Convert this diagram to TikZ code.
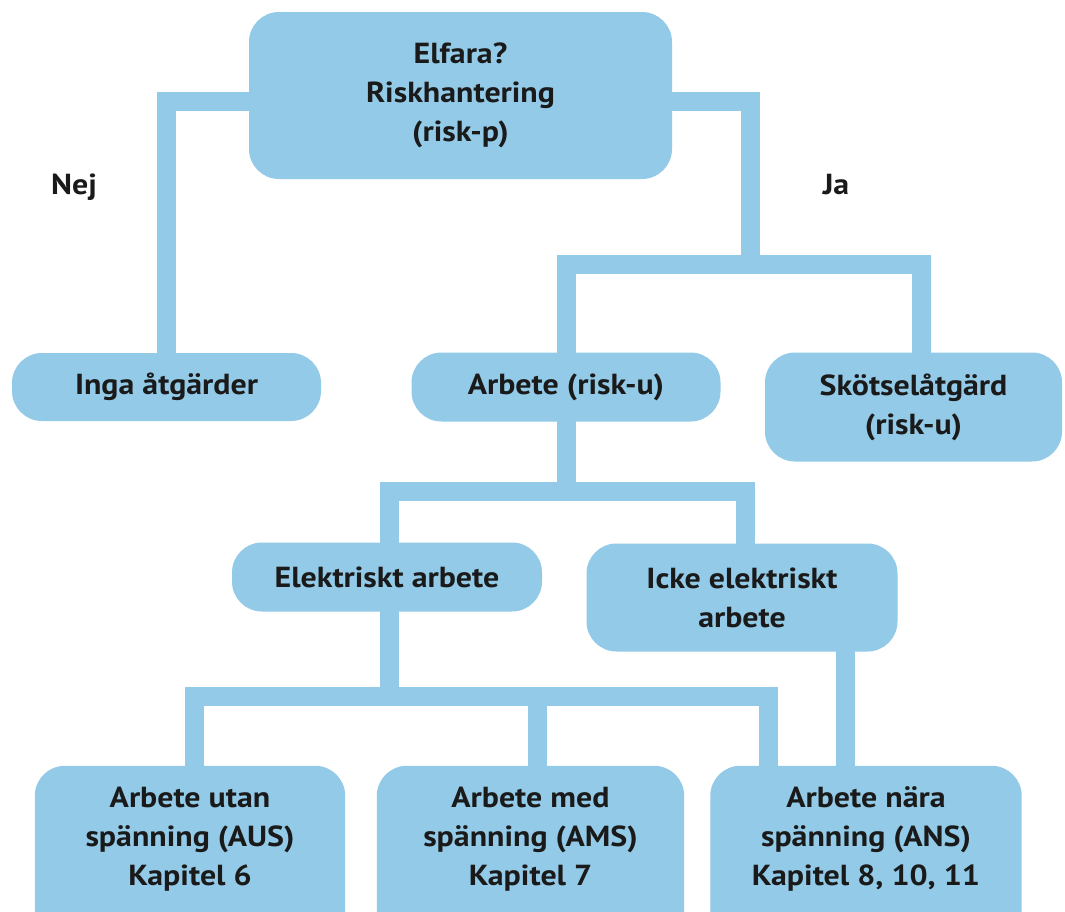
\documentclass[tikz,border=0pt]{standalone}
\usepackage{fontspec}
\setmainfont{PT Sans}[FakeStretch=1.1]
\definecolor{boxblue}{RGB}{146,202,231}
\definecolor{ink}{RGB}{26,26,26}
\pgfdeclarelayer{paper}
\pgfdeclarelayer{bg}
\pgfsetlayers{paper,bg,main}
\newcommand\boxfont{\fontsize{29}{39}\selectfont\bfseries}
\begin{document}
\begin{tikzpicture}[x=1pt,y=-1pt,
  boxtext/.style={inner sep=0pt, align=center, text=ink, font=\boxfont},
  box/.style={boxtext, fill=boxblue, rounded corners=30pt},
  link/.style={draw=boxblue, line width=19pt, line join=miter, line cap=butt},
  tag/.style={text=ink, font=\boxfont, anchor=base, inner sep=0pt}]
\useasboundingbox (0,0) rectangle (1065,911);

% boxes
\node[box, minimum width=423pt, minimum height=167pt] (top) at (460.5,95.5)
  {Elfara?\\Riskhantering\\(risk-p)};
\node[box, minimum width=309pt, minimum height=68pt] (inga) at (166.5,387) {Inga åtgärder};
\node[box, minimum width=309pt, minimum height=69pt] (arb) at (566,387) {Arbete (risk-u)};
\node[box, minimum width=297pt, minimum height=109pt] (skot) at (913.5,407)
  {Skötselåtgärd\\(risk-u)};
\node[box, minimum width=310pt, minimum height=69pt] (elek) at (387,577) {Elektriskt arbete};
\node[box, minimum width=311pt, minimum height=108pt] (icke) at (742,597.5)
  {Icke elektriskt\\arbete};
% the bottom row runs past the lower edge; their fills are drawn below
\node[boxtext, minimum width=310pt, minimum height=146pt] (b1) at (190,839)
  {Arbete utan\\spänning (AUS)\\Kapitel 6};
\node[boxtext, minimum width=307pt, minimum height=146pt] (b2) at (530.5,839)
  {Arbete med\\spänning (AMS)\\Kapitel 7};
\node[boxtext, minimum width=311pt, minimum height=146pt] (b3) at (866,839)
  {Arbete nära\\spänning (ANS)\\Kapitel 8, 10, 11};

% branch labels
\node[tag] (nej) at (74,194) {Nej};
\node[tag] (ja) at (836,194) {Ja};

% junction points of the tree
\coordinate (hl) at (0,101);
\coordinate (jr) at (750,264);
\coordinate (sk) at (921.5,264);
\coordinate (ha) at (0,491);
\coordinate (ea) at (389.5,491);
\coordinate (ia) at (745,491);
\coordinate (jl) at (194,696);
\coordinate (jm) at (537.5,696);
\coordinate (jb) at (768,696);
\coordinate (ik) at (845,696);

\begin{pgfonlayer}{paper}
  \fill[white] (0,0) rectangle (1065,911);
\end{pgfonlayer}

\begin{pgfonlayer}{bg}
  \draw[link] (top.center |- hl) -| (inga.center);
  \draw[link] (top.center |- hl) -| (jr);
  \draw[link] (arb.center) |- (sk) -- (skot.center -| sk);

  \draw[link] (arb.center) -- (arb.center |- ha);
  \draw[link] (elek.center -| ea) -- (ea) -- (ia) -- (icke.center -| ia);

  \draw[link] (elek.center -| ea) -- (jl -| ea);
  \draw[link] (b1.center -| jl) -- (jl) -- (jb) -- (b3.center -| jb);
  \draw[link] (jm) -- (b2.center -| jm);
  \draw[link] (icke.center -| ik) -- (b3.center -| ik);

  % fills of the bottom row, cut off by the lower edge
  \foreach \b in {b1,b2,b3}
    \fill[boxblue, rounded corners=30pt] (\b.north west) rectangle ([yshift=-30pt]\b.south east);
\end{pgfonlayer}
\end{tikzpicture}
\end{document}
